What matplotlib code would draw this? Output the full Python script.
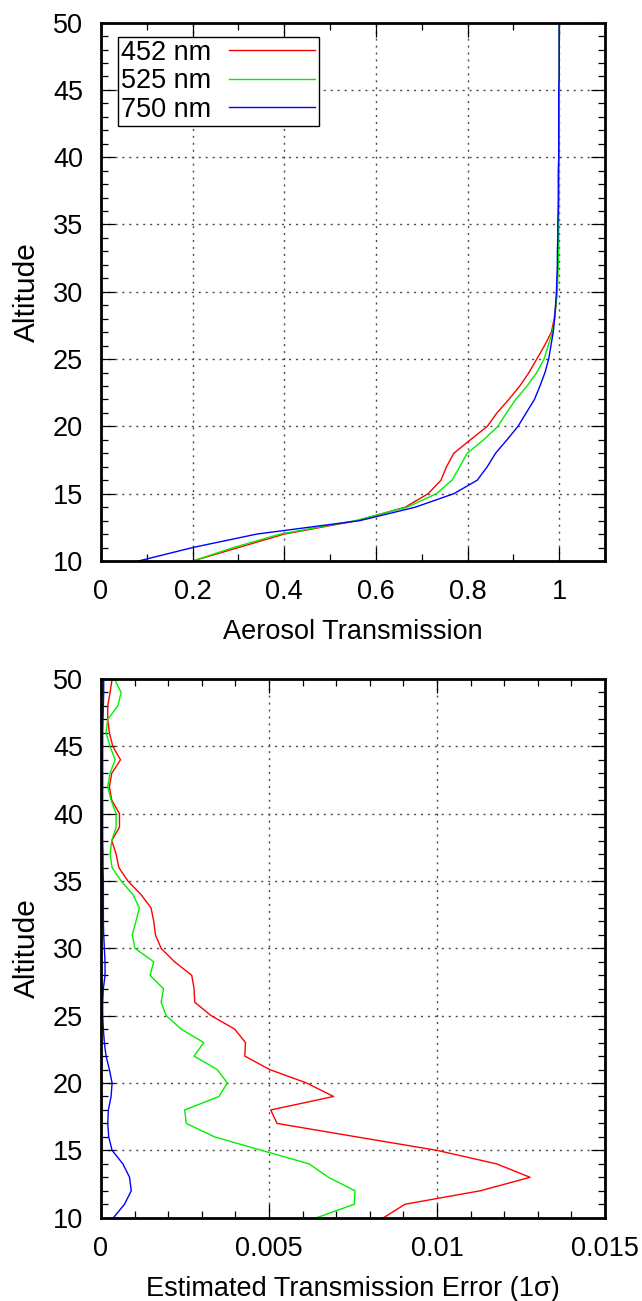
import matplotlib
matplotlib.use("Agg")
import matplotlib.pyplot as plt
import numpy as np
from matplotlib.ticker import MultipleLocator, FormatStrFormatter

plt.rcParams['font.family'] = ['Liberation Sans', 'DejaVu Sans']

altitude = list(range(10, 51))

# aerosol transmission, one value per km (10 .. 50)
trans_452 = [0.200, 0.300, 0.400, 0.560, 0.664, 0.714, 0.742, 0.754, 0.770, 0.806,
             0.843, 0.864, 0.890, 0.914, 0.934, 0.951, 0.968, 0.983, 0.989, 0.993,
             0.995, 0.996, 0.997, 0.997, 0.998, 0.998, 0.998, 0.999, 0.999, 0.999,
             0.999, 0.999, 0.999, 1.000, 1.000, 1.000, 1.000, 1.000, 1.000, 1.000, 1.000]
trans_525 = [0.200, 0.289, 0.391, 0.555, 0.668, 0.732, 0.766, 0.783, 0.799, 0.835,
             0.866, 0.885, 0.905, 0.930, 0.951, 0.967, 0.976, 0.985, 0.990, 0.993,
             0.996, 0.997, 0.998, 0.999, 0.999, 0.999, 0.999, 0.999, 0.999, 0.999,
             0.999, 0.999, 1.000, 1.000, 1.000, 1.000, 1.000, 1.000, 1.000, 1.000, 1.000]
trans_750 = [0.082, 0.200, 0.340, 0.565, 0.686, 0.770, 0.821, 0.843, 0.861, 0.886,
             0.910, 0.928, 0.946, 0.958, 0.969, 0.977, 0.982, 0.987, 0.990, 0.992,
             0.994, 0.995, 0.996, 0.996, 0.997, 0.997, 0.998, 0.998, 0.998, 0.998,
             0.999, 0.999, 0.999, 0.999, 0.999, 0.999, 1.000, 1.000, 1.000, 1.000, 1.000]

# estimated transmission error (1 sigma), in units of 1e-3
err_452 = [8.41, 9.05, 11.29, 12.77, 11.77, 10.00, 7.61, 5.24, 5.05, 6.92,
           6.12, 5.02, 4.28, 4.30, 3.98, 3.28, 2.79, 2.77, 2.70, 2.19,
           1.79, 1.62, 1.57, 1.49, 1.19, 0.80, 0.53, 0.45, 0.32, 0.55,
           0.55, 0.32, 0.25, 0.32, 0.58, 0.35, 0.25, 0.20, 0.20, 0.27, 0.33]
err_525 = [6.42, 7.54, 7.56, 6.77, 6.19, 4.78, 3.38, 2.54, 2.49, 3.51,
           3.76, 3.46, 2.77, 3.06, 2.39, 1.94, 1.79, 1.86, 1.46, 1.57,
           1.01, 0.93, 1.04, 1.14, 0.95, 0.60, 0.33, 0.27, 0.32, 0.45,
           0.45, 0.30, 0.20, 0.27, 0.42, 0.27, 0.15, 0.20, 0.50, 0.60, 0.40]
err_750 = [0.37, 0.70, 0.90, 0.85, 0.65, 0.33, 0.23, 0.20, 0.22, 0.30,
           0.33, 0.25, 0.15, 0.10, 0.07, 0.05, 0.05, 0.07, 0.12, 0.12,
           0.10, 0.08, 0.07, 0.07, 0.07, 0.07, 0.06, 0.06, 0.05, 0.05,
           0.05, 0.05, 0.05, 0.05, 0.05, 0.05, 0.05, 0.06, 0.07, 0.08, 0.08]

labels = ['452 nm', '525 nm', '750 nm']
colors = ['#ff0000', '#00ee00', '#0000ff']

FS = 19.5


def style_axes(ax):
    for s in ax.spines.values():
        s.set_linewidth(2.0)
    ax.tick_params(which='both', direction='in', top=True, right=True,
                   width=0.9, labelsize=FS)
    ax.tick_params(which='major', length=10)
    ax.tick_params(which='minor', length=5)
    ax.tick_params(axis='x', which='major', pad=13)
    ax.tick_params(axis='y', which='major', pad=13)
    ax.grid(True, which='major', color='0.3', lw=1.0, linestyle=(0, (1.5, 3.5)))
    ax.set_ylim(10, 50)
    ax.yaxis.set_major_locator(MultipleLocator(5))
    ax.yaxis.set_minor_locator(MultipleLocator(1))
    ax.set_ylabel('Altitude', fontsize=21.5)
    ax.yaxis.set_label_coords(-0.12, 0.5)


fig = plt.figure(figsize=(6.42, 13.01), dpi=100)
ax1 = fig.add_axes([101 / 642, 1 - 561 / 1301, 504 / 642, 538.4 / 1301])
ax2 = fig.add_axes([101 / 642, 1 - 1217.7 / 1301, 504 / 642, 538.7 / 1301])

for vals, lab, c in zip([trans_452, trans_525, trans_750], labels, colors):
    ax1.plot(vals, altitude, color=c, lw=1.0, label=lab)
style_axes(ax1)
ax1.set_xlim(0, 1.1)
ax1.xaxis.set_major_locator(MultipleLocator(0.2))
ax1.xaxis.set_minor_locator(MultipleLocator(0.1))
ax1.xaxis.set_major_formatter(FormatStrFormatter('%g'))
ax1.set_xlabel('Aerosol Transmission', fontsize=FS, labelpad=10)
leg = ax1.legend(loc='upper left', bbox_to_anchor=(0.033, 0.974), fontsize=FS,
                 markerfirst=False, handlelength=3.2, handletextpad=0.65,
                 borderpad=0.12, labelspacing=0.09, borderaxespad=0,
                 fancybox=False, framealpha=1, edgecolor='black')
leg.get_frame().set_linewidth(1.0)

for vals, c in zip([err_452, err_525, err_750], colors):
    ax2.plot(np.array(vals) * 1e-3, altitude, color=c, lw=1.0)
style_axes(ax2)
ax2.set_xlim(0, 0.015)
ax2.xaxis.set_major_locator(MultipleLocator(0.005))
ax2.xaxis.set_minor_locator(MultipleLocator(0.001))
ax2.xaxis.set_major_formatter(FormatStrFormatter('%g'))
ax2.set_xlabel('Estimated Transmission Error (1\u03c3)', fontsize=FS, labelpad=10)

fig.savefig('out.png', dpi=100)
